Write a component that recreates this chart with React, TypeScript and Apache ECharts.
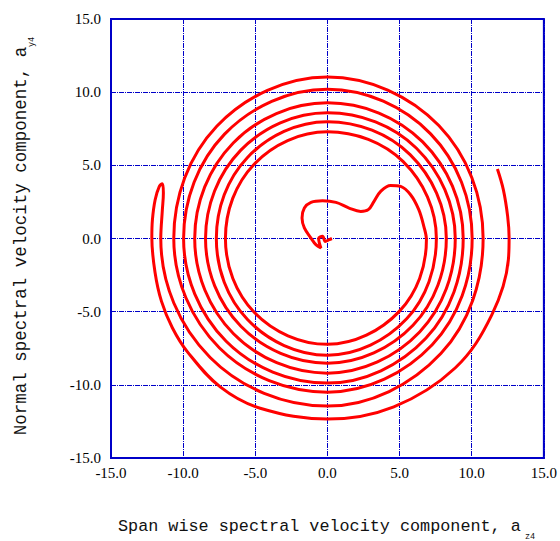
import React, { useEffect, useRef } from "react";
import * as echarts from "echarts";

// Axis ticks (both axes share the same range)
const axisTicks = [-15, -10, -5, 0, 5, 10, 15];

// Trajectory, in data order (span wise a_z4, normal a_y4)
const pathX = [
  0.31, 0.12, -0.15, -0.34, -0.61, -0.45, -0.8, -1.14, -1.6, -1.76, -1.6, -1.14, -0.34, 0.59, 1.5, 2.31, 2.83, 3.23,
  3.69, 4.38, 5.07, 5.76, 6.33, 6.68, 6.86,
  4.98, 0, -5.06, -7.07, -5.08, 0, 5.25, 7.55,
  5.49, 0, -5.54, -7.7, -5.54, 0, 5.73, 8.24,
  5.93, 0, -6.0, -8.45, -6.02, 0, 6.17, 8.86,
  6.39, 0, -6.51, -9.2, -6.53, 0, 6.6, 9.41,
  6.82, 0, -7.02, -9.97, -7.13, 0, 7.15, 10.03,
  7.26, 0, -7.48, -10.65, -7.67, 0, 7.72, 10.79,
  7.86, 0, -8.13, -11.55,
  -11.44, -11.37, -11.44, -11.65, -11.94, -12.13, -12.17, -11.95, -11.5, -10.75, -9.7, -7.41, -4.66,
  0, 4.6, 8.85, 11.4, 12.54, 12.59, 12.49, 12.19, 11.78,
];
const pathY = [
  0.0, -0.08, -0.2, 0.15, 0.0, -0.65, -0.42, 0.03, 0.72, 1.4, 2.08, 2.47, 2.58, 2.47, 2.08, 1.85, 1.97, 2.54,
  3.22, 3.63, 3.56, 2.99, 1.97, 0.83, -0.08,
  -4.98, -7.23, -5.06, 0, 5.08, 7.29, 5.25, 0,
  -5.49, -7.98, -5.54, 0, 5.54, 7.98, 5.73, 0,
  -5.93, -8.52, -6.0, 0, 6.02, 8.59, 6.17, 0,
  -6.39, -9.2, -6.51, 0, 6.53, 9.27, 6.6, 0,
  -6.82, -9.88, -7.02, 0, 7.13, 10.2, 7.15, 0,
  -7.26, -10.5, -7.48, 0, 7.67, 11.04, 7.72, 0,
  -7.86, -11.45, -8.13, 0,
  1.97, 3.11, 3.75, 3.56, 2.65, 1.28, 0.05, -2.3, -4.3, -6.1, -7.75, -10.16, -11.6,
  -12.34, -11.5, -8.85, -5.2, -1.45, 0.05, 1.51, 3.34, 4.75,
];

const xTitle = "Span wise spectral velocity component, a";
const xTitleSub = "z4";
const yTitle = "Normal spectral velocity component, a";
const yTitleSub = "y4";

const BLUE = "#0000c8";
const SERIF = "'Liberation Serif', 'Times New Roman', Times, serif";
const MONO = "'Liberation Mono', 'Courier New', monospace";

export default function App() {
  const ref = useRef<HTMLDivElement>(null);
  useEffect(() => {
    const chart = echarts.init(ref.current!, null, { renderer: "svg" });
    const data = pathX.map((x, i) => [x, pathY[i]]);
    const axisCommon = {
      type: "value",
      min: axisTicks[0],
      max: axisTicks[axisTicks.length - 1],
      interval: 5,
      axisLine: { show: true, onZero: false, lineStyle: { color: BLUE, width: 2 } },
      axisTick: { show: false },
      splitLine: { show: true, lineStyle: { color: BLUE, width: 1, type: [5, 1, 1, 1] } },
      axisLabel: {
        showMinLabel: true,
        showMaxLabel: true,
        formatter: (v: number) => v.toFixed(1),
        fontFamily: SERIF,
        fontSize: 15,
        color: "#000",
      },
    };
    chart.setOption({
      animation: false,
      backgroundColor: "#fff",
      grid: {
        left: 111,
        top: 19,
        width: 435,
        height: 439,
        show: true,
        borderColor: BLUE,
        borderWidth: 2,
        containLabel: false,
      },
      xAxis: { ...axisCommon, axisLabel: { ...axisCommon.axisLabel, margin: 7 } },
      yAxis: { ...axisCommon, axisLabel: { ...axisCommon.axisLabel, margin: 10 } },
      series: [
        {
          type: "line",
          data,
          smooth: 0.37,
          showSymbol: false,
          symbol: "none",
          lineStyle: { color: "#ff0000", width: 3 },
          z: 5,
        },
      ],
      graphic: [
        {
          type: "text",
          x: 118,
          y: 526,
          style: {
            text: xTitle,
            fontFamily: MONO,
            fontSize: 16.8,
            fill: "#111",
            align: "left",
            verticalAlign: "middle",
          },
        },
        {
          type: "text",
          x: 530,
          y: 537,
          style: {
            text: xTitleSub,
            fontFamily: MONO,
            fontSize: 8.5,
            fill: "#111",
            align: "center",
            verticalAlign: "middle",
          },
        },
        {
          type: "text",
          x: 21,
          y: 241,
          rotation: Math.PI / 2,
          style: {
            text: yTitle,
            fontFamily: MONO,
            fontSize: 17.5,
            fill: "#111",
            align: "center",
            verticalAlign: "middle",
          },
        },
        {
          type: "text",
          x: 32,
          y: 42,
          rotation: Math.PI / 2,
          style: {
            text: yTitleSub,
            fontFamily: MONO,
            fontSize: 8.5,
            fill: "#111",
            align: "center",
            verticalAlign: "middle",
          },
        },
      ],
    });
    return () => chart.dispose();
  }, []);
  return (
    <div
      ref={ref}
      style={{ position: "absolute", left: 0, top: 0, width: 560, height: 541 }}
    />
  );
}
